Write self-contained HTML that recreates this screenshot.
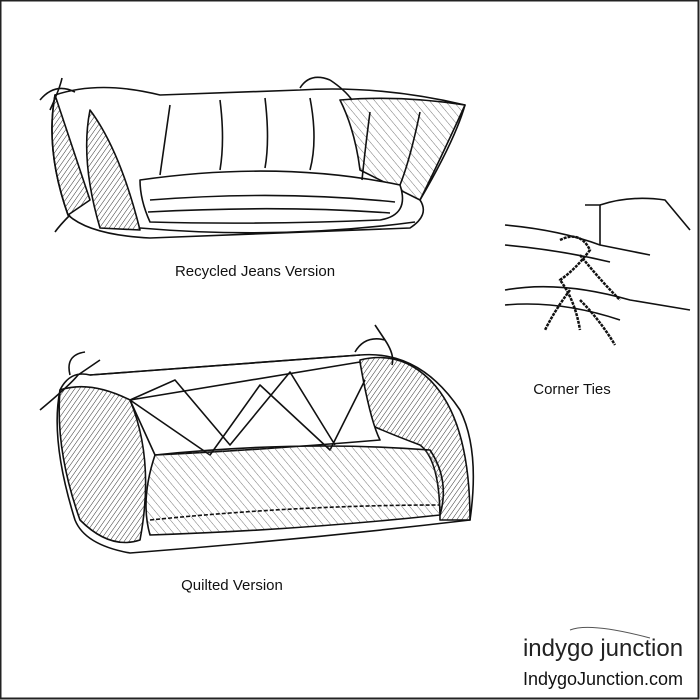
<!DOCTYPE html>
<html><head><style>
html,body{margin:0;padding:0;background:#fff}
.w{position:relative;width:700px;height:700px;overflow:hidden;background:#fff}
svg{position:absolute;left:0;top:0}
</style></head><body><div class="w">
<svg width="700" height="700" viewBox="0 0 700 700" font-family="Liberation Sans, sans-serif">
<defs>
<pattern id="h" width="4" height="4" patternUnits="userSpaceOnUse" patternTransform="rotate(35)">
<line x1="0" y1="0" x2="0" y2="4" stroke="#333" stroke-width="1"/></pattern>
<pattern id="h2" width="6" height="6" patternUnits="userSpaceOnUse" patternTransform="rotate(-40)">
<line x1="0" y1="0" x2="0" y2="6" stroke="#555" stroke-width="0.8"/></pattern>
</defs>
<rect x="0.5" y="0.5" width="698" height="698" fill="none" stroke="#222" stroke-width="2"/>
<g stroke="#111" stroke-width="1.6" fill="none" stroke-linejoin="round">
<path d="M55 95 Q100 80 160 95 L300 90 Q380 85 465 105 Q455 140 420 200 Q430 215 410 228 Q300 232 150 238 Q90 235 68 215 Q45 150 55 95Z" fill="#fff"/>
<path d="M55 95 Q70 140 90 200 L68 215 Q45 150 55 95Z" fill="url(#h)"/>
<path d="M90 110 Q120 150 140 230 L100 228 Q80 160 90 110Z" fill="url(#h)"/>
<path d="M340 100 Q400 95 465 105 Q440 160 420 200 L360 170 Q355 130 340 100Z" fill="url(#h2)"/>
<path d="M140 180 Q280 160 400 185 Q410 215 380 220 Q260 225 150 222 Q140 200 140 180Z" fill="#fff"/>
<path d="M150 200 Q280 190 395 202 M148 212 Q280 205 390 213"/>
<path d="M170 105 Q165 140 160 175 M220 100 Q225 140 220 170 M265 98 Q270 140 265 168 M310 98 Q318 140 310 170 M370 112 Q365 150 362 180 M420 112 Q410 160 400 185"/>
<path d="M140 228 Q280 240 415 222"/>
<path d="M40 100 Q55 82 75 92 M50 110 Q60 88 62 78 M300 88 Q310 72 330 80 M330 80 Q345 90 352 100 M70 215 Q60 225 55 232"/>
<path d="M60 390 Q70 370 90 375 L360 355 Q420 350 460 410 Q480 450 470 520 Q300 540 130 553 Q85 545 75 520 Q50 440 60 390Z" fill="#fff"/>
<path d="M60 390 Q90 380 130 400 Q155 460 140 540 Q110 550 80 520 Q55 450 60 390Z" fill="url(#h)"/>
<path d="M360 360 Q400 350 430 380 Q470 420 470 520 L440 520 Q440 460 420 445 Q380 430 360 420Z" fill="url(#h)"/>
<path d="M130 400 Q250 380 360 362 Q370 420 380 440 Q260 450 155 455Z" fill="#fff"/>
<path d="M130 400 L210 455 L260 385 L330 450 L365 380 M130 400 L175 380 L230 445 L290 372 L335 445"/>
<path d="M155 455 Q300 440 430 450 Q450 480 440 515 Q300 530 150 535 Q140 500 155 455Z" fill="url(#h2)"/>
<path d="M150 520 Q300 505 440 505" stroke-dasharray="4 2"/>
<path d="M90 375 Q230 365 360 355"/>
<path d="M40 410 Q70 385 78 375 L100 360 M70 375 Q65 355 85 352 M355 352 Q365 335 385 340 Q395 355 392 365 M385 340 L375 325"/>
<path d="M505 225 Q560 230 600 245 L650 255 M600 205 Q630 195 665 200 L690 230 M505 245 Q560 250 610 262 M505 290 Q560 280 630 300 L690 310 M505 305 Q560 300 620 320"/>
<path d="M585 205 L600 205 L600 245" />
<path d="M560 240 Q580 230 590 250 Q575 270 560 280 Q575 300 580 330 M580 255 Q600 280 620 300 M570 290 Q555 310 545 330 M580 300 Q600 320 615 345" stroke-width="2.5" stroke-dasharray="3 1"/>
</g>
<g fill="#111" font-size="15" text-anchor="middle">
<text x="255" y="276">Recycled Jeans Version</text>
<text x="572" y="394">Corner Ties</text>
<text x="232" y="590">Quilted Version</text>
</g>
<text x="603" y="656" text-anchor="middle" font-size="24" fill="#222">indygo junction</text>
<text x="603" y="685" text-anchor="middle" font-size="18" fill="#111">IndygoJunction.com</text>
<path d="M570 630 Q590 622 650 638" stroke="#555" fill="none"/>
</svg>
</div></body></html>
